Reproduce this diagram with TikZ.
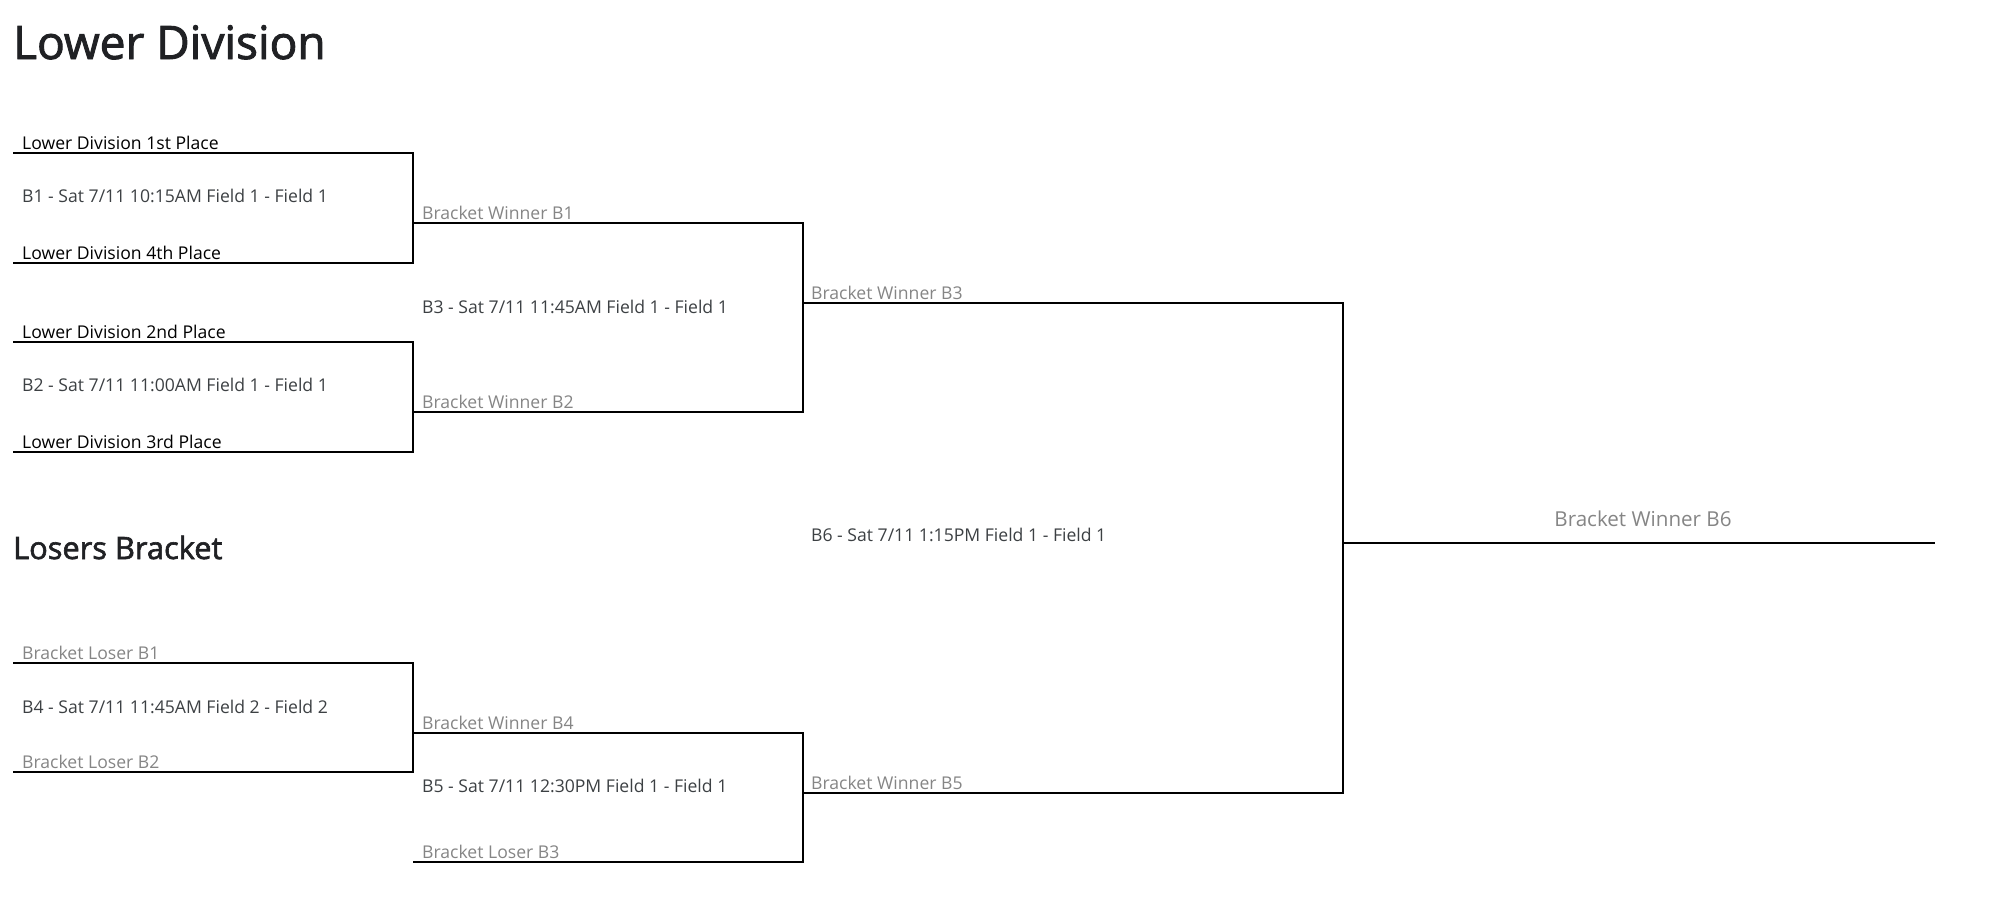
\documentclass[tikz,border=0pt]{standalone}
\usepackage{fontspec}
\setmainfont{Open Sans}
\newfontfamily\headfont[FakeBold=2]{Open Sans}
\definecolor{titlec}{HTML}{202124}
\definecolor{matchc}{HTML}{3C4043}
\definecolor{grayc}{HTML}{858585}
\begin{document}
\begin{tikzpicture}[x=1pt,y=-1pt,
  lbl/.style={anchor=base west, inner sep=0pt, font=\fontsize{17.6}{20}\selectfont},
  team/.style={lbl, text=black},
  slot/.style={lbl, text=grayc},
  match/.style={lbl, text=matchc},
  bline/.style={line width=2pt, line cap=rect},
  headA/.style={anchor=base west, inner sep=0pt, text=titlec, font=\headfont\fontsize{46}{52}\selectfont},
  headB/.style={anchor=base west, inner sep=0pt, text=titlec, font=\headfont\fontsize{30.8}{36}\selectfont}]
\useasboundingbox (0,0) rectangle (2002,914);
% titles
\node[headA] (t1) at (13,59) {Lower Division};
\node[headB] (t2) at (13,559) {Losers Bracket};
% corners
\coordinate (b1a) at (14,153); \coordinate (b1b) at (413,153);
\coordinate (b1c) at (413,263); \coordinate (b1d) at (14,263);
\coordinate (b2a) at (14,342); \coordinate (b2b) at (413,342);
\coordinate (b2c) at (413,452); \coordinate (b2d) at (14,452);
\coordinate (b3a) at (413,223); \coordinate (b3b) at (803,223);
\coordinate (b3c) at (803,412); \coordinate (b3d) at (413,412);
\coordinate (b6a) at (803,303); \coordinate (b6b) at (1343,303);
\coordinate (b6c) at (1343,793); \coordinate (b6d) at (803,793);
\coordinate (f1) at (1343,543); \coordinate (f2) at (1934,543);
\coordinate (b4a) at (14,663); \coordinate (b4b) at (413,663);
\coordinate (b4c) at (413,772); \coordinate (b4d) at (14,772);
\coordinate (b5a) at (413,733); \coordinate (b5b) at (803,733);
\coordinate (b5c) at (803,862); \coordinate (b5d) at (414,862);
% bracket lines
\draw[bline] (b1a) -- (b1b) -- (b1c) -- (b1d);
\draw[bline] (b2a) -- (b2b) -- (b2c) -- (b2d);
\draw[bline] (b3a) -- (b3b) -- (b3c) -- (b3d);
\draw[bline] (b6a) -- (b6b) -- (b6c) -- (b6d);
\draw[bline] (f1) -- (f2);
\draw[bline] (b4a) -- (b4b) -- (b4c) -- (b4d);
\draw[bline] (b5a) -- (b5b) -- (b5c) -- (b5d);
% B1
\node[team] (l1) at (22,149) {Lower Division 1st Place};
\node[match] (m1) at (22,202) {B1 - Sat 7/11 10:15AM Field 1 - Field 1};
\node[team] (l4) at (22,259) {Lower Division 4th Place};
% B2
\node[team] (l2) at (22,338) {Lower Division 2nd Place};
\node[match] (m2) at (22,391) {B2 - Sat 7/11 11:00AM Field 1 - Field 1};
\node[team] (l3) at (22,448) {Lower Division 3rd Place};
% B3
\node[slot] (w1) at (422,219) {Bracket Winner B1};
\node[match] (m3) at (422,313) {B3 - Sat 7/11 11:45AM Field 1 - Field 1};
\node[slot] (w2) at (422,408) {Bracket Winner B2};
% B6
\node[slot] (w3) at (811,299) {Bracket Winner B3};
\node[match] (m6) at (811,541) {B6 - Sat 7/11 1:15PM Field 1 - Field 1};
\node[slot] (w5) at (811,789) {Bracket Winner B5};
% final
\node[slot, anchor=base, font=\fontsize{20.6}{24}\selectfont] (w6) at (1643,526) {Bracket Winner B6};
% B4
\node[slot] (lb1) at (22,659) {Bracket Loser B1};
\node[match] (m4) at (22,713) {B4 - Sat 7/11 11:45AM Field 2 - Field 2};
\node[slot] (lb2) at (22,768) {Bracket Loser B2};
% B5
\node[slot] (w4) at (422,729) {Bracket Winner B4};
\node[match] (m5) at (422,792) {B5 - Sat 7/11 12:30PM Field 1 - Field 1};
\node[slot] (lb3) at (422,858) {Bracket Loser B3};
\end{tikzpicture}
\end{document}
